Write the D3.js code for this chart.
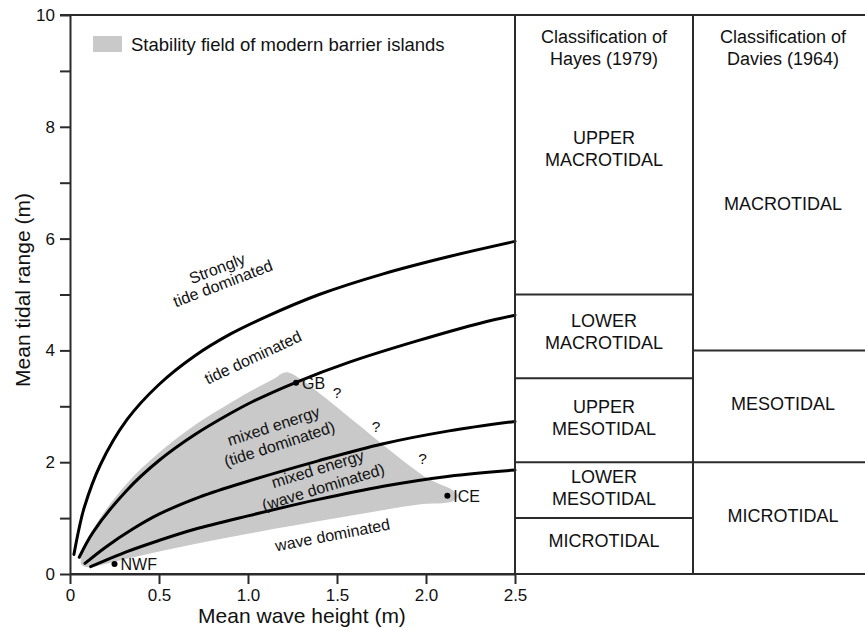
<!DOCTYPE html>
<html>
<head>
<meta charset="utf-8">
<script src="https://cdn.jsdelivr.net/npm/d3@7"></script>
<style>
  html, body { margin: 0; padding: 0; background: #fff; }
  svg { display: block; font-family: "Liberation Sans", Arial, Helvetica, sans-serif; }
</style>
</head>
<body>
<svg id="chart" width="865" height="628"></svg>
<script>
// Boundary curves, as [mean wave height (m), mean tidal range (m)]
const strongTideLimit = [[0.022,0.35],[0.05,0.8],[0.08,1.19],[0.17,1.95],[0.32,2.76],[0.5,3.39],[0.7,3.9],[0.9,4.29],[1.1,4.6],[1.4,5.0],[1.76,5.37],[2.13,5.68],[2.5,5.95]];
const tideLimit = [[0.052,0.3],[0.13,0.75],[0.32,1.5],[0.5,2.03],[0.7,2.49],[0.9,2.87],[1.03,3.09],[1.27,3.43],[1.57,3.79],[1.95,4.17],[2.32,4.5],[2.5,4.63]];
const mixedLimit = [[0.084,0.19],[0.2,0.48],[0.35,0.8],[0.5,1.07],[0.73,1.38],[1.0,1.66],[1.39,2.02],[1.76,2.33],[2.13,2.56],[2.5,2.73]];
const waveLimit = [[0.116,0.13],[0.32,0.4],[0.5,0.6],[0.7,0.8],[1.0,1.04],[1.39,1.33],[1.76,1.57],[2.13,1.75],[2.5,1.86]];

// Stability field of modern barrier islands (outline)
const fieldOutline = [[0.06,0.22],[0.13,0.8],[0.32,1.62],[0.5,2.17],[0.7,2.66],[0.9,3.06],[1.05,3.33],[1.15,3.5],[1.2,3.6],[1.24,3.59],[2.0,1.73],[2.15,1.5],[2.18,1.4],[2.15,1.3],[1.95,1.24],[1.5,1.0],[1.0,0.72],[0.6,0.47],[0.3,0.26],[0.1,0.12],[0.07,0.15]];

// Example barrier coasts
const siteNames = ["NWF", "GB", "ICE"];
const siteWave = [0.25, 1.27, 2.12];
const siteTide = [0.18, 3.42, 1.40];

// Uncertain field limits
const queryWave = [1.5, 1.72, 1.98];
const queryTide = [3.24, 2.63, 2.06];

// Tidal range classifications
const hayesBreaks = [0, 1, 2, 3.5, 5, 10];
const hayesClasses = [["MICROTIDAL"], ["LOWER", "MESOTIDAL"], ["UPPER", "MESOTIDAL"], ["LOWER", "MACROTIDAL"], ["UPPER", "MACROTIDAL"]];
const daviesBreaks = [0, 2, 4, 10];
const daviesClasses = [["MICROTIDAL"], ["MESOTIDAL"], ["MACROTIDAL"]];

// Axis ticks
const xTicks = [0, 0.5, 1, 1.5, 2, 2.5];
const xTickLabels = ["0", "0.5", "1.0", "1.5", "2.0", "2.5"];
const yTicks = [0, 1, 2, 3, 4, 5, 6, 7, 8, 9, 10];
const yTickLabels = ["0", "", "2", "", "4", "", "6", "", "8", "", "10"];

// ---------- drawing ----------
const svg = d3.select("#chart");
const INK = "#2b2b2b";
const FIELD = "#c9c9c9";

const x = d3.scaleLinear().domain([0, 2.5]).range([70, 515]);
const y = d3.scaleLinear().domain([0, 10]).range([574, 15]);
const colDivider = 693, rightEdge = 865;

// stability field
svg.append("path")
  .datum(fieldOutline)
  .attr("d", d3.line().x(d => x(d[0])).y(d => y(d[1])).curve(d3.curveCatmullRomClosed.alpha(0.5)))
  .attr("fill", FIELD);

// boundary curves
const curveGen = d3.line().x(d => x(d[0])).y(d => y(d[1])).curve(d3.curveCatmullRom.alpha(0.5));
[strongTideLimit, tideLimit, mixedLimit, waveLimit].forEach(c => {
  svg.append("path").datum(c).attr("d", curveGen)
    .attr("fill", "none").attr("stroke", "#000").attr("stroke-width", 3)
    .attr("stroke-linecap", "round");
});

// axes
const xAxis = d3.axisBottom(x).tickValues(xTicks)
  .tickFormat((d, i) => xTickLabels[i]).tickSize(10).tickSizeOuter(0).tickPadding(5);
const yAxis = d3.axisLeft(y).tickValues(yTicks)
  .tickFormat((d, i) => yTickLabels[i]).tickSize(10).tickSizeOuter(0).tickPadding(5);

function styleAxis(g) {
  g.select(".domain").attr("stroke", INK).attr("stroke-width", 2);
  g.selectAll(".tick line").attr("stroke", INK).attr("stroke-width", 2);
  g.selectAll(".tick text").attr("fill", "#111").attr("font-size", 17)
    .attr("font-family", "Liberation Sans, Arial, sans-serif");
}
svg.append("g").attr("transform", `translate(0,${y(0)})`).call(xAxis).call(styleAxis);
svg.append("g").attr("transform", `translate(${x(0)},0)`).call(yAxis).call(styleAxis);

// frame: top and bottom lines across the classification columns, column edges
const frame = svg.append("g").attr("stroke", INK).attr("stroke-width", 2);
frame.append("line").attr("x1", x(0) - 10).attr("x2", rightEdge).attr("y1", y(10)).attr("y2", y(10));
frame.append("line").attr("x1", x(0)).attr("x2", rightEdge).attr("y1", y(0)).attr("y2", y(0));
frame.append("line").attr("x1", x(2.5)).attr("x2", x(2.5)).attr("y1", y(10)).attr("y2", y(0));
frame.append("line").attr("x1", colDivider).attr("x2", colDivider).attr("y1", y(10)).attr("y2", y(0));

// classification columns
function drawColumn(breaks, classes, x0, x1, cx, title, nudges) {
  breaks.slice(1, -1).forEach(b => {
    frame.append("line").attr("x1", x0).attr("x2", x1).attr("y1", y(b)).attr("y2", y(b));
  });
  const g = svg.append("g").attr("font-size", 18).attr("fill", "#111").attr("text-anchor", "middle");
  title.forEach((t, i) => g.append("text").attr("x", cx).attr("y", 42.5 + i * 22).text(t));
  classes.forEach((lines, i) => {
    const mid = y((breaks[i] + breaks[i + 1]) / 2) + nudges[i];
    lines.forEach((t, j) => {
      g.append("text").attr("x", cx)
        .attr("y", mid + (j - (lines.length - 1) / 2) * 22 + 6.5).text(t);
    });
  });
}
drawColumn(hayesBreaks, hayesClasses, x(2.5), colDivider, 604,
  ["Classification of", "Hayes (1979)"], [-6, -3, -3, -5, -6]);
drawColumn(daviesBreaks, daviesClasses, colDivider, rightEdge, 783,
  ["Classification of", "Davies (1964)"], [-3, -3, 21]);

// sites
siteNames.forEach((n, i) => {
  svg.append("circle").attr("cx", x(siteWave[i])).attr("cy", y(siteTide[i])).attr("r", 3).attr("fill", "#000");
  svg.append("text").attr("x", x(siteWave[i]) + 6).attr("y", y(siteTide[i]) + 6)
    .attr("font-size", 16).attr("fill", "#111").text(n);
});

// question marks
queryWave.forEach((w, i) => {
  svg.append("text").attr("x", x(w)).attr("y", y(queryTide[i]) + 5)
    .attr("text-anchor", "middle").attr("font-size", 15.5).attr("fill", "#111").text("?");
});

// field labels
function label(lines, cx, cy, angle, gap) {
  const g = svg.append("g").attr("transform", `translate(${cx},${cy}) rotate(${angle})`)
    .attr("font-size", 16).attr("fill", "#111").attr("text-anchor", "middle");
  lines.forEach((t, j) => {
    g.append("text").attr("y", (j - (lines.length - 1) / 2) * gap + 5.5).text(t);
  });
}
label(["Strongly", "tide dominated"], 220, 276, -21, 16);
label(["tide dominated"], 253, 357.5, -25, 0);
label(["mixed energy", "(tide dominated)"], 276.5, 435, -18, 19);
label(["mixed energy", "(wave dominated)"], 320.5, 478, -17, 19);
label(["wave dominated"], 332.5, 535, -11, 0);

// legend
svg.append("rect").attr("x", 93).attr("y", 36).attr("width", 29).attr("height", 16).attr("fill", FIELD);
svg.append("text").attr("x", 131).attr("y", 50.5).attr("font-size", 18.5).attr("fill", "#111")
  .text("Stability field of modern barrier islands");

// axis titles
svg.append("text").attr("x", 302).attr("y", 623).attr("text-anchor", "middle")
  .attr("font-size", 21).attr("fill", "#111").text("Mean wave height (m)");
svg.append("text").attr("transform", "translate(30,290) rotate(-90)").attr("text-anchor", "middle")
  .attr("font-size", 21).attr("fill", "#111").text("Mean tidal range (m)");
</script>
</body>
</html>
